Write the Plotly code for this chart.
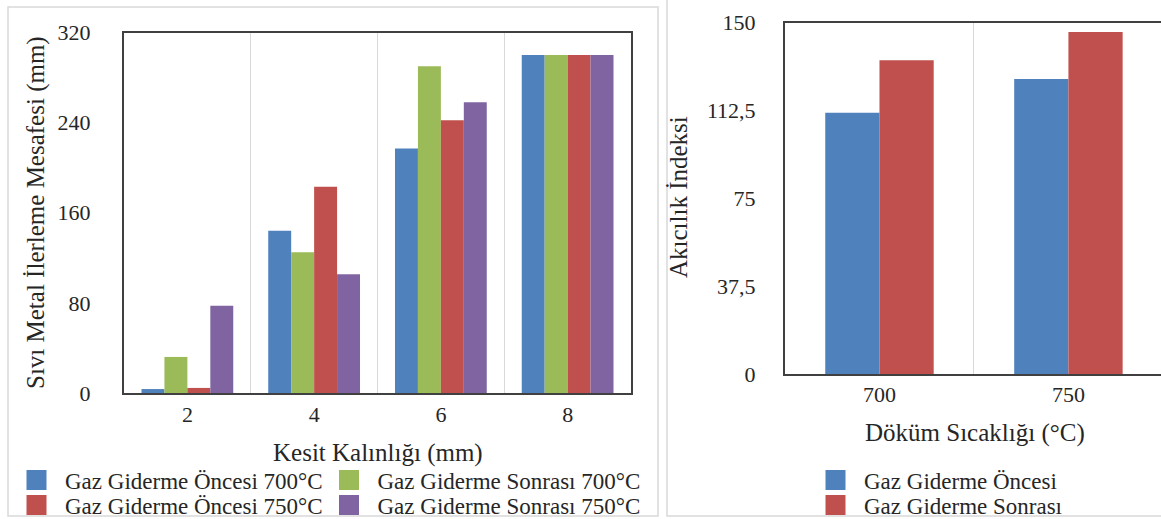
import plotly.graph_objects as go

W, H = 1161, 519

# ---------------- data ----------------
thickness = ["2", "4", "6", "8"]
before_700 = [3.5, 144, 217, 300]
after_700 = [32, 125, 290, 300]
before_750 = [4.5, 183, 242, 300]
after_750 = [77.5, 105.5, 258, 300]

left_yticks = [0, 80, 160, 240, 320]
left_yticktext = ["0", "80", "160", "240", "320"]

temps = ["700", "750"]
index_before = [111.5, 126]
index_after = [134, 146]

right_yticks = [0, 37.5, 75, 112.5, 150]
right_yticktext = ["0", "37,5", "75", "112,5", "150"]

names_left = ["Gaz Giderme Öncesi 700°C", "Gaz Giderme Sonrası 700°C",
              "Gaz Giderme Öncesi 750°C", "Gaz Giderme Sonrası 750°C"]
names_right = ["Gaz Giderme Öncesi", "Gaz Giderme Sonrası"]

# ---------------- style ----------------
BLUE, RED, GREEN, PURPLE = "#4F81BD", "#C0504D", "#9BBB59", "#8064A2"
FONT = "Liberation Serif"
TXT = "#262626"
FRAME = "#404040"
GRID = "#d9d9d9"


def px(x):
    return x / W


def py(y):
    return 1 - y / H


fig = go.Figure()

left_series = [before_700, after_700, before_750, after_750]
left_colors = [BLUE, GREEN, RED, PURPLE]
for vals, col, nm in zip(left_series, left_colors, names_left):
    fig.add_trace(go.Bar(x=thickness, y=vals, name=nm, marker_color=col,
                         marker_line_width=0, xaxis="x", yaxis="y",
                         showlegend=False))

right_series = [index_before, index_after]
right_colors = [BLUE, RED]
for i, (vals, col, nm) in enumerate(zip(right_series, right_colors, names_right)):
    fig.add_trace(go.Bar(x=temps, y=vals, name=nm, marker_color=col,
                         marker_line_width=0, xaxis="x2", yaxis="y2",
                         width=0.287, offset=-0.287 + 0.287 * i,
                         showlegend=False))

# legend proxies (one legend per entry for exact placement)
legend_entries = [
    (names_left[0], BLUE, 36.5, 480),
    (names_left[1], GREEN, 349, 480),
    (names_left[2], RED, 36.5, 505),
    (names_left[3], PURPLE, 349, 505),
    (names_right[0], BLUE, 835.5, 480),
    (names_right[1], RED, 835.5, 505),
]
ITEMW = 47
layout_legends = {}
for k, (nm, col, cx, cy) in enumerate(legend_entries):
    key = "legend" if k == 0 else f"legend{k + 1}"
    fig.add_trace(go.Scatter(x=[None], y=[None], mode="markers", name=nm,
                             marker=dict(symbol="square", size=16, color=col,
                                         line=dict(color=col, width=4)),
                             legend=key, showlegend=True, xaxis="x", yaxis="y"))
    layout_legends[key] = dict(
        x=px(cx - (ITEMW + 10) / 2), y=py(cy), xanchor="left", yanchor="middle",
        itemwidth=ITEMW, itemsizing="trace", bgcolor="rgba(0,0,0,0)",
        borderwidth=0, font=dict(family=FONT, size=23, color=TXT),
        tracegroupgap=0,
    )

axis_common = dict(showline=True, linecolor=FRAME, linewidth=2, ticks="",
                   zeroline=False,
                   tickfont=dict(family=FONT, size=22, color=TXT))

fig.update_layout(
    width=W, height=H,
    margin=dict(l=0, r=0, t=0, b=0, autoexpand=False),
    paper_bgcolor="white", plot_bgcolor="white",
    barmode="group", bargap=0.276, bargroupgap=0,
    xaxis=dict(domain=[px(124), px(631)], type="category", mirror=True,
               showgrid=True, gridcolor=GRID, gridwidth=1, tickson="boundaries",
               ticklabelstandoff=1, anchor="y", **axis_common),
    yaxis=dict(domain=[py(393), py(32.5)], range=[0, 320], mirror=True,
               showgrid=False, tickvals=left_yticks, ticktext=left_yticktext,
               ticklabelstandoff=27, anchor="x", **axis_common),
    xaxis2=dict(domain=[px(785), 1.0], type="category", mirror=True,
                range=[-0.5, 1.49],
                showgrid=True, gridcolor=GRID, gridwidth=1, tickson="boundaries",
                ticklabelstandoff=0, anchor="y2", **axis_common),
    yaxis2=dict(domain=[py(374), py(22.7)], range=[0, 150], mirror=False,
                showgrid=False, tickvals=right_yticks, ticktext=right_yticktext,
                ticklabelstandoff=23, anchor="x2", **axis_common),
    **layout_legends,
)

title_font = dict(family=FONT, size=25, color=TXT)
annots = [
    ("Kesit Kalınlığı (mm)", 377.5, 453, 0),
    ("Sıvı Metal İlerleme Mesafesi (mm)", 36, 213, -90),
    ("Döküm Sıcaklığı (°C)", 975, 433, 0),
    ("Akıcılık İndeksi", 678, 197, -90),
]
for txt, x, y, ang in annots:
    fig.add_annotation(text=txt, x=px(x), y=py(y), xref="paper", yref="paper",
                       xanchor="center", yanchor="middle", showarrow=False,
                       textangle=ang, font=title_font)

# panel borders
fig.add_shape(type="rect", xref="paper", yref="paper",
              x0=px(8), x1=px(658), y0=py(516), y1=py(7),
              line=dict(color=GRID, width=1.5), layer="below")
fig.add_shape(type="rect", xref="paper", yref="paper",
              x0=px(667), x1=px(1175), y0=py(516), y1=py(-5),
              line=dict(color=GRID, width=1.5), layer="below")

fig.write_html(
    "out.html",
    config={"displayModeBar": False},
    post_script="document.body.style.margin='0';document.body.style.overflow='hidden';",
)
